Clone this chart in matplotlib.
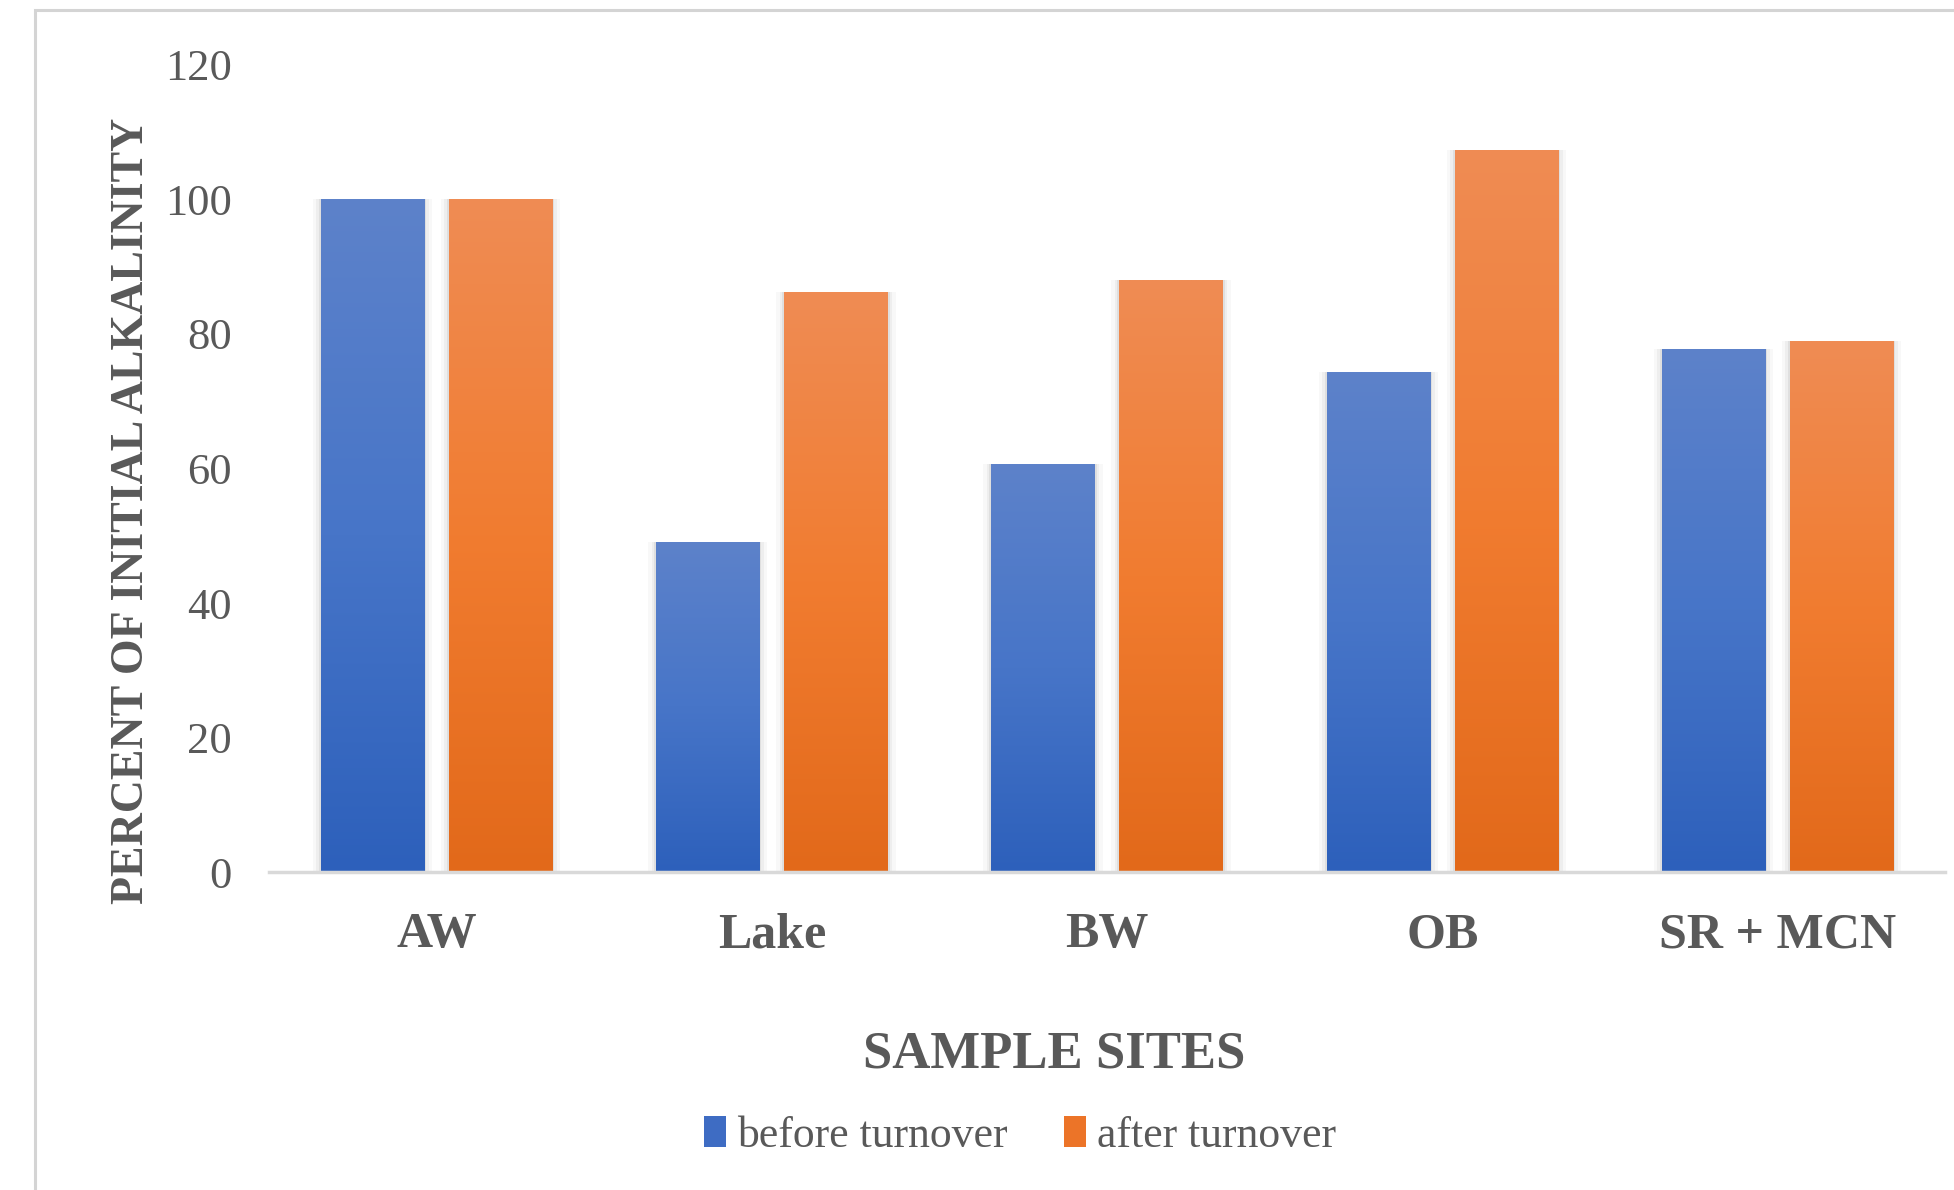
import numpy as np
import matplotlib.pyplot as plt
from matplotlib.patches import Rectangle
from matplotlib.colors import LinearSegmentedColormap

# percent of initial alkalinity per site
sites = ['AW', 'Lake', 'BW', 'OB', 'SR + MCN']
before_turnover = [100.0, 49.1, 60.6, 74.3, 77.8]
after_turnover = [100.0, 86.3, 88.0, 107.4, 78.9]
y_ticks = [0, 20, 40, 60, 80, 100, 120]

text_grey = '#595959'
plt.rcParams['font.family'] = ['Liberation Serif', 'DejaVu Serif']

fig = plt.figure(figsize=(19.54, 11.9), dpi=100)
ax = fig.add_axes([0.1377, 0.2672, 0.8577, 0.6782])

# thin grey frame around the chart area
fig.patches.append(Rectangle((35 / 1954, -0.1), 1.2, 1.1 - 10 / 1190,
                             transform=fig.transFigure, fill=False,
                             edgecolor='#d4d4d4', linewidth=2.2, zorder=0))

x = np.arange(len(sites))
width = 0.308
offset = 0.191

blue_cmap = LinearSegmentedColormap.from_list('blue', ['#2d60bb', '#4775c8', '#5d82ca'])
orange_cmap = LinearSegmentedColormap.from_list('orange', ['#e2691a', '#f17c30', '#ef8c54'])


def gradient_bars(xpos, values, cmap, mid, label):
    # soft shadow behind each bar
    for grow, alpha in [(0.024, 0.05), (0.014, 0.08), (0.006, 0.13)]:
        ax.bar(xpos, values, width + 2 * grow, color='#7f7f7f', alpha=alpha,
               linewidth=0, zorder=1)
    bars = ax.bar(xpos, values, width, color=mid, label=label, linewidth=0, zorder=2)
    ramp = np.linspace(0, 1, 256).reshape(-1, 1)
    for b in bars:
        x0 = b.get_x()
        h = b.get_height()
        im = ax.imshow(ramp, cmap=cmap, origin='lower', aspect='auto',
                       extent=[x0, x0 + b.get_width(), 0, h], zorder=3,
                       interpolation='bilinear')
        im.set_clip_path(b)
    return bars


b1 = gradient_bars(x - offset, before_turnover, blue_cmap, '#3e6cc3', 'before turnover')
b2 = gradient_bars(x + offset, after_turnover, orange_cmap, '#ec7428', 'after turnover')

ax.set_xlim(-0.5, len(sites) - 0.5)
ax.set_ylim(0, 120)
ax.set_yticks(y_ticks)
ax.set_yticklabels([str(t) for t in y_ticks], fontsize=32, color=text_grey)
ax.set_xticks(x)
ax.set_xticklabels(sites, fontsize=36, fontweight='bold', color=text_grey)
ax.tick_params(axis='both', length=0)
ax.tick_params(axis='y', pad=27)
ax.tick_params(axis='x', pad=29)

for side in ['top', 'right', 'left']:
    ax.spines[side].set_visible(False)
ax.spines['bottom'].set_color('#d9d9d9')
ax.spines['bottom'].set_linewidth(2.5)
ax.spines['bottom'].set_zorder(4)

ax.set_ylabel('PERCENT OF INITIAL ALKALINITY', fontsize=33, fontweight='bold',
              color=text_grey)
ax.yaxis.set_label_coords(-0.069, 0.448)

fig.text(1054 / 1954, 1 - 1054 / 1190, 'SAMPLE SITES', fontsize=38, fontweight='bold',
         color=text_grey, ha='center', va='center')

leg = fig.legend(handles=[b1, b2], loc='center', bbox_to_anchor=(1020 / 1954, 1 - 1136 / 1190),
                 ncol=2, frameon=False, fontsize=31.5, handlelength=0.5, handleheight=0.7,
                 handletextpad=0.25, columnspacing=1.3)
for t in leg.get_texts():
    t.set_color(text_grey)

fig.savefig('out.png', dpi=100)
